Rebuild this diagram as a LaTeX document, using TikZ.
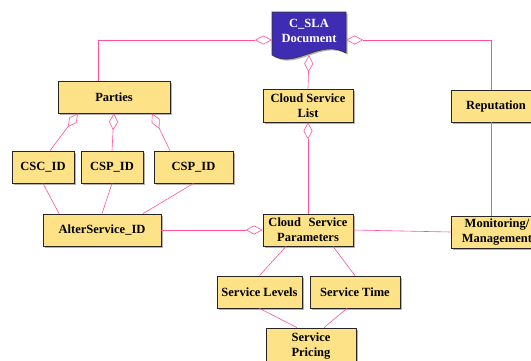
\documentclass[tikz,border=0pt]{standalone}
\usepackage{fontspec}
\setmainfont{Liberation Serif}
\usetikzlibrary{positioning,shadows,arrows.meta}

\definecolor{boxyellow}{RGB}{253,226,135}
\definecolor{docblue}{RGB}{62,44,178}
\definecolor{linkpink}{RGB}{255,80,160}

\begin{document}
\begin{tikzpicture}[
		x=1pt, y=-1pt,
		entity/.style={rectangle, draw=black!85, line width=0.8pt, fill=boxyellow, align=center,
			font=\bfseries\fontsize{12.5}{15}\selectfont, inner sep=1pt, minimum height=32pt,
			drop shadow={shadow xshift=1.5pt, shadow yshift=-1.5pt, fill=black!60}},
		doctext/.style={rectangle, draw=none, align=center, text=white,
			font=\bfseries\fontsize{12.5}{15}\selectfont, minimum width=74pt, minimum height=40pt, inner sep=0pt},
		link/.style={draw=linkpink, line width=0.6pt},
		agg/.style={link, -{Diamond[open, length=17pt, width=9pt]}}
]
\useasboundingbox (0,0) rectangle (531,360);

% the document shape
\filldraw[fill=docblue, draw=black!80, line width=0.6pt,
	drop shadow={shadow xshift=1.5pt, shadow yshift=-1.5pt, fill=black!60}]
	(272,12) -- (346,12) -- (346,53) .. controls (320,38) and (295,70) .. (272,55) -- cycle;
\node [doctext] (doc) at (309,31) {C\_SLA\\Document};

% entities
\node [entity, minimum width=112pt] (parties) at (114,97) {Parties};
\node [entity, minimum width=62pt] (csc) at (43,167) {CSC\_ID};
\node [entity, minimum width=62pt] (cspa) at (112,167) {CSP\_ID};
\node [entity, minimum width=79pt] (cspb) at (193.5,167) {CSP\_ID};
\node [entity, minimum width=118pt] (alter) at (102,230) {AlterService\_ID};
\node [entity, minimum width=90pt, minimum height=33pt] (list) at (308,105.5) {Cloud Service\\List};
\node [entity, minimum width=90pt] (params) at (308,230) {Cloud\hspace{0.6em}Service\\Parameters};
\node [entity, minimum width=90pt] (rep) at (496,106) {Reputation};
\node [entity, minimum width=92pt] (mon) at (497,232) {Monitoring/\\Management};
\node [entity, minimum width=85pt] (levels) at (259.5,292) {Service Levels};
\node [entity, minimum width=90pt] (time) at (355,292) {Service Time};
\node [entity, minimum width=90pt, minimum height=36pt] (pricing) at (311,346) {Service\\Pricing};

% aggregations
\draw [agg] ([xshift=-16pt]parties.north) |- ([yshift=-9pt]doc.west);
\draw [agg] ([xshift=-5pt]rep.north) |- ([yshift=-9pt]doc.east);
\draw [agg] (list.north) -- ([yshift=-4pt]doc.south);
\draw [agg] (params.north) -- (list.south);
\draw [agg] (alter.east) -- (params.west);
\draw [agg] ([xshift=7pt]csc.north) -- ([xshift=-36pt]parties.south);
\draw [agg] (cspa.north) -- (parties.south);
\draw [agg] ([xshift=-23.5pt]cspb.north) -- ([xshift=38pt]parties.south);

% plain links
\draw [link] (csc.south) -- ([xshift=-43pt]alter.north);
\draw [link] (cspa.south) -- (alter.north);
\draw [link] (cspb.south) -- ([xshift=41pt]alter.north);
\draw [link] ([xshift=-5pt]rep.south) -- ([xshift=-5pt]rep.south |- mon.north);
\draw [link] (params.east) -- (mon.west);
\draw [link] ([xshift=-22pt]params.south) -- (levels.north);
\draw [link] ([xshift=25pt]params.south) -- (time.north);
\draw [link] (levels.south) -- ([xshift=-14pt]pricing.north);
\draw [link] ([xshift=-8pt]time.south) -- ([xshift=13pt]pricing.north);

\end{tikzpicture}
\end{document}
